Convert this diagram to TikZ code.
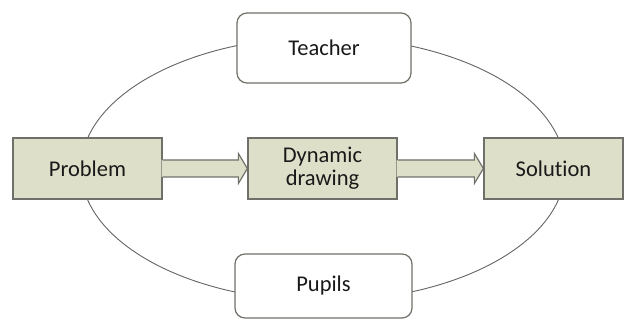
\documentclass[tikz,border=0pt]{standalone}
\usepackage{fontspec}
\setmainfont[Ligatures=NoCommon]{Carlito}
\usetikzlibrary{calc}
\definecolor{boxfill}{RGB}{221,223,201}
\definecolor{boxline}{RGB}{112,112,106}
\definecolor{ringline}{RGB}{100,100,100}
\definecolor{txt}{RGB}{25,25,25}
\tikzset{
  stagebox/.style={draw=boxline, line width=1.3pt, fill=boxfill, rectangle,
    minimum height=61pt, inner sep=0pt, text=txt, align=center,
    font=\fontsize{22.5}{26}\selectfont},
  actorbox/.style={draw=boxline, line width=1.2pt, fill=white, rounded corners=10pt,
    inner sep=0pt, text=txt, font=\fontsize{22.5}{26}\selectfont},
  ring/.style={draw=ringline, line width=0.9pt},
  flowfill/.style={fill=boxfill},
  flowline/.style={draw=boxline, line width=1.2pt, line join=miter},
}
\begin{document}
\begin{tikzpicture}[x=1pt,y=-1pt]
\useasboundingbox (0,0) rectangle (624,320);
% surrounding cycle
\draw[ring] (323,169) ellipse [x radius=242, y radius=132];
% process stages
\node[stagebox, minimum width=149pt] (problem) at (87.5,168.5) {Problem};
\node[stagebox, minimum width=149pt] (dyn) at (322.5,168.5) {Dynamic\\[-3pt]drawing};
\node[stagebox, minimum width=139pt] (sol) at (553.5,168.5) {Solution};
% actors
\node[actorbox, minimum width=174pt, minimum height=70pt] (teacher) at (324,48) {Teacher};
\node[actorbox, minimum width=177pt, minimum height=64pt] (pupils) at (323.5,286) {Pupils};
% block arrows between stages
\foreach \a/\b in {problem/dyn, dyn/sol}{
  \fill[flowfill] ($(\a.east)+(-1,-8.5)$) -- ($(\b.west)+(-9,-8.5)$) -- ($(\b.west)+(-9,-15)$)
    -- (\b.west) -- ($(\b.west)+(-9,15)$) -- ($(\b.west)+(-9,8.5)$) -- ($(\a.east)+(-1,8.5)$) -- cycle;
  \draw[flowline] ($(\a.east)+(0,-8.5)$) -- ($(\b.west)+(-9,-8.5)$) -- ($(\b.west)+(-9,-15)$)
    -- (\b.west) -- ($(\b.west)+(-9,15)$) -- ($(\b.west)+(-9,8.5)$) -- ($(\a.east)+(0,8.5)$);
}
\end{tikzpicture}
\end{document}
